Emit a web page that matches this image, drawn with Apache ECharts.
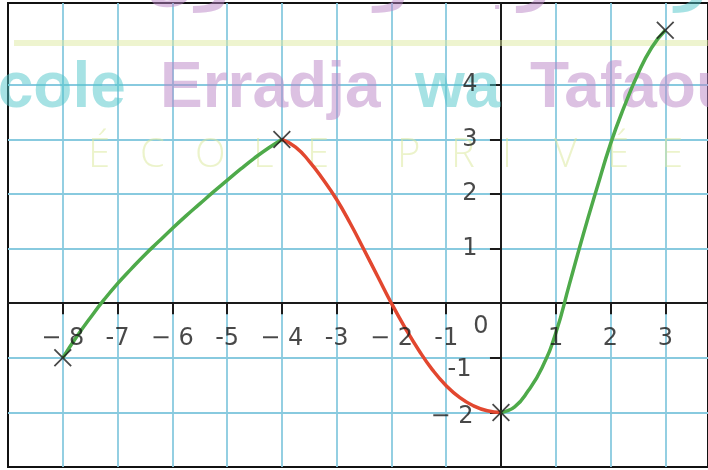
<!DOCTYPE html>
<html>
<head>
<meta charset="utf-8">
<title>Courbe</title>
<script src="https://cdn.jsdelivr.net/npm/echarts@6/dist/echarts.min.js"></script>
<style>
  html, body { margin: 0; padding: 0; background: #fff; }
  #main { width: 708px; height: 470px; }
</style>
</head>
<body>
<div id="main"></div>
<script>
// portions of the curve, every quarter unit
var branch1 = [[-8, -1], [-7.75, -0.62], [-7.5, -0.27], [-7.25, 0.06], [-7, 0.36], [-6.75, 0.63], [-6.5, 0.89], [-6.25, 1.13],
  [-6, 1.37], [-5.75, 1.6], [-5.5, 1.82], [-5.25, 2.04], [-5, 2.25], [-4.75, 2.46], [-4.5, 2.66], [-4.25, 2.84], [-4, 3]];
var branch2 = [[-4, 3], [-3.75, 2.86], [-3.5, 2.6], [-3.25, 2.27], [-3, 1.9], [-2.75, 1.46], [-2.5, 0.98], [-2.25, 0.49],
  [-2, 0], [-1.75, -0.45], [-1.5, -0.86], [-1.25, -1.22], [-1, -1.51], [-0.75, -1.73], [-0.5, -1.88], [-0.25, -1.97], [0, -2]];
var branch3 = [[0, -2], [0.25, -1.9], [0.5, -1.6], [0.75, -1.18], [1, -0.55], [1.25, 0.35], [1.5, 1.25], [1.75, 2.1],
  [2, 2.92], [2.25, 3.6], [2.5, 4.2], [2.75, 4.68], [3, 5]];
// crosses
var keyPoints = [[-8, -1], [-4, 3], [0, -2], [3, 5]];

// tick labels
var xTicks = [-8, -7, -6, -5, -4, -3, -2, -1, 1, 2, 3];
var xTickLabels = ['− 8', '-7', '− 6', '-5', '− 4', '-3', '− 2', '-1', '1', '2', '3'];
var yTicks = [-2, -1, 1, 2, 3, 4];
var yTickLabels = ['− 2', '-1', '1', '2', '3', '4'];
var originLabel = '0';

var green = '#4eaa4a';
var red = '#e2472f';
var gridBlue = '#88cadf';
var ink = '#1a1a1a';
var labelFont = 'DejaVu Sans';

var crossPath = 'path://M0,0.7L0.7,0L5,4.3L9.3,0L10,0.7L5.7,5L10,9.3L9.3,10L5,5.7L0.7,10L0,9.3L4.3,5Z';

var myChart = echarts.init(document.getElementById('main'));

// watermark (school logo), drawn above the grid but under the curve
var teal = 'rgba(77,197,201,0.5)';
var purple = 'rgba(185,131,197,0.5)';
var wm = [];
wm.push({ type: 'rect', shape: { x: 14, y: 40, width: 700, height: 6 }, style: { fill: 'rgba(221,233,160,0.5)' }, z: 1, silent: true });
var words = ['Ecole', 'Erradja', 'wa', 'Tafaoul'];
var wordX = [-45, 160, 415, 530];
var wordC = [teal, purple, teal, purple];
for (var k = 0; k < words.length; k++) {
  wm.push({ type: 'text', x: wordX[k], y: 89, z: 1, silent: true,
    style: { text: words[k], font: 'bold 64px "Liberation Sans"', fill: wordC[k], verticalAlign: 'middle' } });
}
var priv = ['É', 'C', 'O', 'L', 'E', 'P', 'R', 'I', 'V', 'É', 'E'];
var privX = [88, 140, 195, 253, 307, 397, 451, 502, 554, 607, 661];
for (var i = 0; i < priv.length; i++) {
  wm.push({ type: 'text', x: privX[i], y: 156, z: 1, silent: true,
    style: { text: priv[i], font: '300 40px "Open Sans"', fill: 'rgba(221,233,160,0.55)', verticalAlign: 'middle' } });
}
wm.push({ type: 'text', x: 60, y: -16, z: 1, silent: true,
  style: { text: 'الخاصة', font: 'bold 56px "DejaVu Sans"', fill: teal, align: 'center', verticalAlign: 'middle' } });
wm.push({ type: 'text', x: 370, y: -16, z: 1, silent: true,
  style: { text: 'الرجاء و التفاؤل', font: 'bold 56px "DejaVu Sans"', fill: purple, align: 'center', verticalAlign: 'middle' } });
wm.push({ type: 'text', x: 680, y: -16, z: 1, silent: true,
  style: { text: 'مدرسة', font: 'bold 56px "DejaVu Sans"', fill: teal, align: 'center', verticalAlign: 'middle' } });

var option = {
  animation: false,
  backgroundColor: '#fff',
  grid: {
    left: 8, right: -2, top: 3, bottom: 3,
    show: true, borderColor: '#111', borderWidth: 2
  },
  graphic: wm,
  xAxis: {
    type: 'value', min: -9, max: 3.78, interval: 1,
    axisLine: { onZero: true, lineStyle: { color: ink, width: 2 } },
    axisTick: { show: true, customValues: xTicks, length: 11, lineStyle: { color: ink, width: 2 } },
    splitLine: { show: true, lineStyle: { color: gridBlue, width: 1.8 } },
    axisLabel: { show: false }
  },
  yAxis: {
    type: 'value', min: -3, max: 5.5, interval: 1,
    axisLine: { onZero: true, lineStyle: { color: ink, width: 2 } },
    axisTick: { show: true, customValues: yTicks, length: 11, lineStyle: { color: ink, width: 2 } },
    splitLine: { show: true, lineStyle: { color: gridBlue, width: 1.8 } },
    axisLabel: { show: false }
  },
  series: [
    { type: 'line', data: branch1, smooth: 0.5, showSymbol: false, lineStyle: { color: green, width: 3.5 }, z: 3 },
    { type: 'line', data: branch2, smooth: 0.5, showSymbol: false, lineStyle: { color: red, width: 3.5 }, z: 3 },
    { type: 'line', data: branch3, smooth: 0.5, showSymbol: false, lineStyle: { color: green, width: 3.5 }, z: 3 },
    { type: 'scatter', data: keyPoints, symbol: crossPath, symbolSize: 18, itemStyle: { color: ink }, z: 5 },
    // x tick labels, placed under the axis at each tick
    {
      type: 'scatter', symbolSize: 1, silent: true, z: 4,
      itemStyle: { color: 'rgba(0,0,0,0)' },
      data: xTicks.map(function (v) { return [v, 0]; }),
      label: {
        show: true, position: 'inside', offset: [0, 36],
        fontFamily: labelFont, fontSize: 24, color: ink,
        formatter: function (p) { return xTickLabels[p.dataIndex]; }
      }
    },
    // origin label
    {
      type: 'scatter', symbolSize: 1, silent: true, z: 4,
      itemStyle: { color: 'rgba(0,0,0,0)' },
      data: [[0, 0]],
      label: {
        show: true, position: 'inside', offset: [-20, 24],
        fontFamily: labelFont, fontSize: 24, color: ink,
        formatter: originLabel
      }
    },
    // y tick labels, left of the axis
    {
      type: 'scatter', symbolSize: 1, silent: true, z: 4,
      itemStyle: { color: 'rgba(0,0,0,0)' },
      data: yTicks.map(function (v) {
        var item = { value: [0, v] };
        if (v === -1) item.label = { offset: [-6, 12] };
        if (v === -2) item.label = { offset: [-4, 4] };
        return item;
      }),
      label: {
        show: true, position: 'left', distance: 23,
        fontFamily: labelFont, fontSize: 24, color: ink,
        formatter: function (p) { return yTickLabels[p.dataIndex]; }
      }
    }
  ]
};

myChart.setOption(option);
</script>
</body>
</html>
